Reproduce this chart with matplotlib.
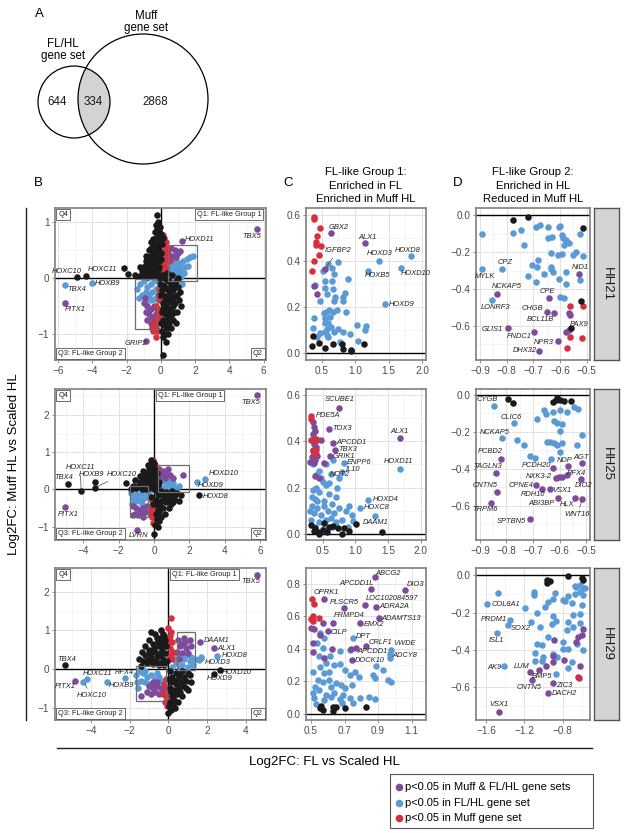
import matplotlib
matplotlib.use('Agg')
import matplotlib.pyplot as plt
from matplotlib.patches import Circle, Rectangle
from matplotlib.ticker import MultipleLocator

plt.rcParams['font.family'] = ['Liberation Sans', 'DejaVu Sans']

W, H = 625, 833
PURPLE = '#7E4A9B'
BLUE = '#5B9BD5'
RED = '#D62F3F'
BLACK = '#1A1A1A'

# ---------------- Venn (panel A) ----------------
venn_counts = ['644', '334', '2868']

# ---------------- Panel B, HH21 ----------------
b1_black = [(-0.25, 1.14), (-0.3, 0.95), (-0.15, 1.0), (-0.1, 0.85), (0.0, 0.8), (-0.2, 0.78), (-0.3, 0.72),
            (-0.05, 0.7), (-0.4, 0.62), (-0.15, 0.6), (0.05, 0.62), (-0.5, 0.5), (-0.3, 0.5), (-0.1, 0.48),
            (-0.6, 0.4), (-0.4, 0.38), (-0.2, 0.36), (0.0, 0.35), (-0.7, 0.28), (-0.5, 0.26), (-0.3, 0.22),
            (-0.1, 0.2), (-0.85, 0.15), (-0.6, 0.12), (-0.4, 0.1), (-0.2, 0.08), (-1.0, 0.05), (-0.75, 0.02),
            (-1.23, 0.03), (-1.52, 0.06), (-1.9, 0.07), (-2.16, 0.18), (-4.89, 0.02), (-4.39, 0.04),
            (0.1, 0.05), (0.3, -0.02), (0.5, -0.05), (0.8, -0.1), (1.0, -0.15), (0.2, -0.12), (0.45, -0.18),
            (0.7, -0.22), (0.95, -0.3), (1.1, -0.25), (0.15, -0.3), (0.4, -0.32), (0.6, -0.35), (0.25, -0.4),
            (0.65, -0.4), (0.85, -0.45), (0.1, -0.45), (0.3, -0.5), (0.55, -0.55), (0.75, -0.6), (0.05, -0.6),
            (0.25, -0.65), (0.45, -0.7), (0.88, -0.8), (0.1, -0.75), (0.2, -0.85), (0.35, -0.9), (0.05, -0.95),
            (0.15, -1.05), (0.1, -1.38), (0.5, -0.25), (-0.05, -0.1), (-0.1, 0.0), (-0.05, 0.92),
            (-0.25, 0.88), (-0.35, 0.82), (0.1, 0.72), (-0.45, 0.7), (-0.25, 0.62), (-0.6, 0.55), (-0.2, 0.52),
            (0.0, 0.45), (-0.35, 0.43), (-0.75, 0.38), (-0.5, 0.33), (-0.1, 0.3), (-0.9, 0.3), (-0.65, 0.2),
            (-0.45, 0.18), (-0.2, 0.15), (-1.1, 0.12), (-0.8, 0.07), (-0.55, 0.05), (-0.3, 0.03), (0.2, 0.0),
            (0.6, -0.12), (0.9, -0.05), (0.35, -0.2), (0.8, -0.32), (0.05, -0.22), (0.5, -0.42), (0.35, -0.6),
            (0.65, -0.65), (0.15, -0.55), (0.5, -0.8), (0.25, -1.0), (0.7, -0.75), (1.05, -0.4),
            (-0.6, 0.65), (-0.45, 0.55), (-0.7, 0.5), (-0.55, 0.42), (-0.85, 0.4), (-0.95, 0.22), (-1.2, 0.2),
            (-0.3, 0.3), (0.35, 0.1), (0.65, 0.05), (1.0, 0.0), (0.7, -0.5), (0.95, -0.6), (0.4, -1.0),
            (0.6, -0.9), (-0.05, -0.3), (0.0, -0.8), (0.3, -1.15), (1.2, -0.5), (0.85, -0.15), (0.55, -0.3),
            (0.3, -0.75)]
b1_red = [(0.1, 0.78), (0.2, 0.72), (0.3, 0.65), (0.15, 0.6), (0.4, 0.55), (0.25, 0.5), (0.1, 0.45), (0.35, 0.42),
          (0.2, 0.35), (0.45, 0.3), (0.1, 0.25), (0.3, 0.2), (0.15, 0.15), (-0.1, -0.2), (-0.2, -0.3), (-0.1, -0.4),
          (-0.3, -0.5), (-0.15, -0.55), (-0.25, -0.65), (-0.1, -0.7), (-0.35, -0.75), (-0.2, -0.8), (-0.3, -0.9),
          (-0.15, -0.95), (-0.45, -0.95), (-0.3, -1.05), (-0.5, -0.85)]
b1_blue = [(0.5, 0.4), (0.7, 0.35), (0.9, 0.3), (1.1, 0.28), (1.3, 0.3), (1.5, 0.35), (1.7, 0.38), (1.85, 0.4),
           (0.6, 0.2), (0.8, 0.15), (1.0, 0.1), (1.2, 0.12), (1.4, 0.2), (0.5, 0.05), (0.75, 0.03), (0.95, 0.22),
           (1.6, 0.22), (0.4, 0.25), (1.15, 0.02), (1.25, -0.1), (0.45, 0.12), (0.65, 0.28), (1.05, 0.2),
           (1.35, 0.1), (0.85, 0.05), (-1.4, -0.2), (-1.2, -0.1),
           (-1.0, -0.05), (-0.8, -0.15), (-0.6, -0.1), (-0.4, -0.05), (-1.1, -0.3), (-0.9, -0.25), (-0.7, -0.3),
           (-0.5, -0.25), (-0.3, -0.2), (-0.6, -0.4), (-0.4, -0.38), (-0.2, -0.35), (-1.3, -0.35), (-0.85, -0.42),
           (-5.58, -0.12), (-4.02, -0.09)]
b1_purple = [(0.6, 0.55), (0.8, 0.5), (1.0, 0.45), (1.1, 0.48), (0.7, 0.4), (0.9, 0.38), (0.55, 0.32), (0.4, 0.45),
             (-1.0, -0.45), (-0.8, -0.5), (-0.6, -0.55), (-0.4, -0.5), (-0.9, -0.6), (-0.7, -0.65), (-0.5, -0.7),
             (-0.3, -0.65), (-0.8, -0.75), (-0.6, -0.8), (-0.4, -0.85), (-0.25, -0.55), (-0.95, -0.35),
             (-0.5, -0.9), (-5.61, -0.45), (-0.9, -1.13), (1.21, 0.67), (5.6, 0.88)]
b1_genes = [('HOXC10', -4.89, 0.02), ('HOXC11', -4.39, 0.04), ('TBX4', -5.58, -0.12), ('HOXB9', -4.02, -0.09),
            ('PITX1', -5.61, -0.45), ('GRIP2', -0.9, -1.13), ('HOXD11', 1.21, 0.67), ('TBX5', 5.6, 0.88)]

# ---------------- Panel B, HH25 ----------------
b2_black = [(-4.88, 0.14), (-4.12, -0.04), (-3.33, 0.21), (-3.33, 0.05), (2.56, -0.15), (-1.58, 0.16), (0.0, -1.2),
            (-0.2, 0.8), (0.0, 0.7), (-0.3, 0.55), (-0.1, 0.5), (0.15, 0.45), (-0.5, 0.35), (-0.25, 0.3),
            (0.05, 0.3), (-0.8, 0.2), (-0.6, 0.15), (-0.35, 0.12), (-0.1, 0.1), (0.2, 0.12), (-1.2, 0.1),
            (-1.0, 0.05), (-0.7, 0.0), (-0.45, 0.02), (0.1, -0.02), (0.4, -0.05), (0.7, -0.08), (1.0, -0.05),
            (1.3, -0.1), (0.25, -0.15), (0.55, -0.18), (0.85, -0.2), (1.15, -0.25), (0.1, -0.28), (0.4, -0.3),
            (0.7, -0.35), (0.95, -0.4), (0.2, -0.45), (0.5, -0.5), (0.3, -0.6), (0.1, -0.65), (0.15, -0.8),
            (0.05, -0.95), (-0.15, -0.2), (-0.05, -0.4), (1.5, -0.15), (0.6, -0.1), (-0.15, 0.25), (-0.4, 0.45),
            (0.3, 0.2), (-0.9, 0.1), (0.8, -0.25), (0.35, -0.42), (-0.1, 0.65), (-0.2, 0.4), (-0.45, 0.22),
            (-0.3, 0.05), (0.0, 0.0), (0.2, -0.05), (0.15, -0.35), (0.45, -0.15), (1.2, -0.15), (0.6, -0.3),
            (0.25, -0.55), (-0.05, 0.15), (-1.3, 0.02), (0.9, -0.1), (-0.6, 0.5), (-0.35, 0.65), (-0.8, 0.35),
            (-1.05, 0.25), (1.1, -0.35), (0.85, -0.5), (0.6, -0.65), (0.4, -0.75), (0.2, -1.0), (-0.25, 0.6),
            (0.05, 0.55), (-0.7, 0.3), (1.4, -0.3), (0.3, -0.85)]
b2_red = [(-0.05, 0.8), (0.05, 0.65), (-0.1, 0.5), (0.1, 0.38), (0.0, 0.2), (-0.1, -0.3), (-0.05, -0.45),
          (-0.15, -0.55), (0.0, -0.65), (-0.1, -0.75), (-0.05, -0.9), (0.05, -0.55), (0.15, 0.55), (-0.2, -0.65)]
b2_blue = [(0.4, 0.25), (0.6, 0.2), (0.8, 0.15), (1.0, 0.1), (1.2, 0.05), (0.5, 0.05), (0.75, 0.0), (1.4, 0.08),
           (0.3, 0.1), (0.9, 0.25), (0.6, 0.32), (1.1, 0.18), (2.88, 0.28), (2.41, 0.21), (-1.3, -0.1),
           (-1.1, -0.05), (-0.9, -0.15), (-0.7, -0.1), (-0.5, -0.05), (-1.2, -0.25), (-1.0, -0.3), (-0.8, -0.28),
           (-0.6, -0.25), (-0.4, -0.2), (-0.3, -0.1), (-1.25, -0.4), (-0.7, -0.38), (-1.05, -0.18)]
b2_purple = [(0.3, 0.55), (0.5, 0.5), (0.7, 0.45), (0.9, 0.4), (0.4, 0.35), (0.6, 0.3), (0.2, 0.4), (1.1, 0.3),
             (0.8, 0.55), (1.66, 0.4), (-1.2, -0.45), (-1.0, -0.5), (-0.8, -0.55), (-0.6, -0.5), (-0.4, -0.45),
             (-1.1, -0.65), (-0.9, -0.7), (-0.7, -0.65), (-0.5, -0.6), (-1.2, -0.7), (-0.6, -0.75), (-0.3, -0.6),
             (-5.03, -0.47), (-0.94, -1.09), (5.8, 2.53)]
b2_genes = [('TBX4', -4.88, 0.14), ('HOXC11', -4.12, -0.04), ('HOXB9', -3.33, 0.21), ('HOXC10', -3.33, 0.05),
            ('PITX1', -5.03, -0.47), ('LVRN', -0.94, -1.09), ('HOXD10', 2.88, 0.28), ('HOXD9', 2.41, 0.21),
            ('HOXD8', 2.56, -0.15), ('TBX5', 5.8, 2.53)]

# ---------------- Panel B, HH29 ----------------
b3_black = [(-5.35, 0.10), (2.68, -0.03), (2.37, -0.13), (-0.9, 0.96), (-0.4, 1.0), (-0.2, 0.85), (-0.6, 0.8),
            (-0.3, 0.7), (-0.8, 0.65), (-0.5, 0.6), (-0.1, 0.6), (-1.0, 0.5), (-0.7, 0.45), (-0.4, 0.45),
            (-0.15, 0.4), (-1.2, 0.35), (-0.9, 0.3), (-0.6, 0.3), (-0.3, 0.25), (-1.1, 0.15), (-0.8, 0.12),
            (-0.5, 0.1), (-0.2, 0.1), (-1.4, 0.08), (-0.05, 0.2), (-0.65, 0.2), (-1.05, 0.22), (-0.35, 0.55),
            (-0.55, 0.7), (-0.25, 0.9), (-0.75, 0.55), (-0.45, 0.35), (-0.95, 0.4), (-1.3, 0.2), (0.1, -0.05),
            (0.4, -0.1), (0.7, -0.05), (1.0, -0.1), (0.2, -0.2), (0.5, -0.25), (0.8, -0.2), (1.1, -0.15),
            (0.15, -0.35), (0.4, -0.4), (0.65, -0.35), (0.9, -0.3), (0.1, -0.5), (0.3, -0.55), (0.55, -0.5),
            (0.2, -0.7), (0.45, -0.65), (0.1, -0.85), (0.3, -0.8), (0.0, -1.15), (0.05, -0.95), (0.75, -0.45),
            (0.25, -0.9), (0.3, -0.3), (0.55, -0.15), (0.05, -0.25), (0.35, -0.65), (0.6, -0.6), (0.15, -0.6),
            (-0.15, 0.75), (-0.4, 0.15), (-1.2, 0.6), (-0.7, 0.9), (-1.0, 0.75), (-0.45, 0.8), (-1.35, 0.45),
            (-0.85, 0.2), (-1.5, 0.25), (0.9, -0.5), (0.7, -0.7), (0.5, -0.85), (1.2, -0.35), (0.35, -1.0),
            (0.15, -1.05), (1.0, -0.55)]
b3_red = [(0.12, 1.31), (0.0, 1.05), (0.15, 0.95), (0.05, 0.8), (0.2, 0.7), (-0.05, 0.65), (0.1, 0.55),
          (0.25, 0.45), (0.05, 0.35), (0.2, 0.25), (0.1, 0.85), (-0.1, -0.25), (-0.2, -0.4), (-0.05, -0.5),
          (-0.15, -0.6), (-0.3, -0.65), (-0.05, -0.75), (-0.15, -0.85), (-0.05, -0.95), (-0.1, -0.7)]
b3_blue = [(0.3, 0.35), (0.5, 0.3), (0.8, 0.25), (1.1, 0.2), (1.4, 0.25), (1.6, 0.22), (0.4, 0.15), (0.7, 0.1),
           (1.0, 0.05), (1.3, 0.1), (0.2, 0.05), (0.6, 0.02), (1.7, 0.3), (0.9, 0.35), (1.2, 0.32), (2.54, 0.34),
           (1.69, 0.28), (-1.7, -0.15), (-1.5, -0.05), (-1.3, -0.1), (-1.1, -0.2), (-0.9, -0.15), (-0.7, -0.25),
           (-0.5, -0.2), (-1.6, -0.35), (-1.4, -0.3), (-1.2, -0.35), (-1.0, -0.4), (-0.8, -0.45), (-1.55, -0.5),
           (-0.6, -0.1), (-0.4, -0.3), (-1.2, -0.05), (-4.2, -0.27), (-4.4, -0.33), (-3.2, -0.35), (-2.25, -0.24)]
b3_purple = [(0.5, 0.75), (0.8, 0.8), (1.1, 0.75), (0.6, 0.6), (0.9, 0.55), (1.2, 0.6), (0.45, 0.45), (0.7, 0.4),
             (1.0, 0.4), (0.55, 0.25), (0.85, 0.7), (0.7, 0.65), (1.64, 0.69), (2.38, 0.53), (4.58, 2.43),
             (-1.4, -0.7), (-1.0, -0.45), (-0.8, -0.5), (-0.6, -0.45), (-0.4, -0.5), (-1.1, -0.6), (-0.9, -0.65),
             (-0.7, -0.6), (-0.5, -0.65), (-0.3, -0.55), (-0.6, -0.35), (-0.8, -0.35), (-4.84, -0.31)]
b3_genes = [('TBX4', -5.35, 0.10), ('PITX1', -4.84, -0.31), ('HOXC11', -4.2, -0.27), ('HOXC10', -4.4, -0.33),
            ('HOXB9', -3.2, -0.35), ('RFX4', -2.25, -0.24), ('DAAM1', 1.64, 0.69), ('ALX1', 2.38, 0.53),
            ('HOXD8', 2.54, 0.34), ('HOXD3', 1.69, 0.28), ('HOXD10', 2.68, -0.03), ('HOXD9', 2.37, -0.13),
            ('TBX5', 4.58, 2.43)]

# ---------------- Panel C, HH21 ----------------
c1_blue = [(0.6, 0.387), (0.65, 0.372), (0.74, 0.396), (0.515, 0.358), (0.685, 0.345), (0.9, 0.323), (0.55, 0.314),
           (0.65, 0.312), (0.4, 0.294), (0.55, 0.283), (0.665, 0.28), (0.575, 0.257), (0.85, 0.261), (0.7, 0.246),
           (0.825, 0.242), (0.475, 0.228), (0.685, 0.228), (0.815, 0.228), (0.61, 0.188), (0.56, 0.181),
           (0.535, 0.174), (0.385, 0.152), (0.675, 0.177), (0.865, 0.177), (0.725, 0.188), (0.55, 0.13),
           (0.6, 0.13), (0.635, 0.116), (0.575, 0.106), (0.75, 0.106), (0.825, 0.094), (1.025, 0.123),
           (1.165, 0.12), (1.155, 0.101), (0.685, 0.091), (0.425, 0.072), (0.475, 0.088), (0.575, 0.08),
           (0.6, 0.07), (0.925, 0.083), (0.775, 0.051), (1.05, 0.054), (0.365, 0.109), (0.55, 0.094),
           (0.55, 0.152), (0.625, 0.157), (1.36, 0.401), (1.195, 0.359), (1.83, 0.42), (1.69, 0.372),
           (1.44, 0.213)]
c1_purple = [(0.635, 0.52), (1.15, 0.477), (0.55, 0.367), (0.385, 0.29), (0.435, 0.257)]
c1_red = [(0.385, 0.59), (0.385, 0.583), (0.475, 0.543), (0.435, 0.51), (0.415, 0.481), (0.415, 0.471),
          (0.485, 0.464), (0.465, 0.425), (0.39, 0.401), (0.35, 0.358)]
c1_black = [(0.375, 0.074), (0.35, 0.032), (0.465, 0.046), (0.55, 0.022), (0.675, 0.039), (0.8, 0.039),
            (0.935, 0.013), (0.94, 0.01), (1.135, 0.039), (0.815, 0.019)]
c1_genes = [('GBX2', 0.635, 0.52), ('ALX1', 1.15, 0.477), ('IGFBP2', 0.55, 0.367), ('HOXD3', 1.36, 0.401),
            ('HOXB5', 1.195, 0.359), ('HOXD8', 1.83, 0.42), ('HOXD10', 1.69, 0.372), ('HOXD9', 1.44, 0.213)]

# ---------------- Panel C, HH25 ----------------
c2_blue = [(0.4, 0.253), (0.5, 0.225), (0.55, 0.21), (0.35, 0.19), (0.45, 0.18), (0.6, 0.17), (0.7, 0.16),
           (0.38, 0.15), (0.52, 0.14), (0.65, 0.13), (0.33, 0.12), (0.42, 0.11), (0.58, 0.1), (0.75, 0.11),
           (0.85, 0.1), (0.36, 0.09), (0.48, 0.08), (0.62, 0.07), (0.32, 0.06), (0.44, 0.05), (0.55, 0.06),
           (0.7, 0.05), (0.8, 0.06), (0.95, 0.08), (0.9, 0.12), (0.38, 0.03), (0.5, 0.02), (0.65, 0.03),
           (0.6, 0.22), (0.72, 0.2), (0.45, 0.27), (0.55, 0.3), (0.62, 0.26), (0.35, 0.3), (0.4, 0.2), (0.3, 0.1),
           (0.33, 0.16), (0.75, 0.24), (0.66, 0.32), (0.97, 0.055), (0.42, 0.14), (0.52, 0.12), (0.47, 0.24),
           (0.68, 0.09), (0.88, 0.03), (0.833, 0.307), (0.792, 0.268), (1.68, 0.282), (1.2, 0.148),
           (1.064, 0.112), (1.305, 0.076)]
c2_purple = [(0.756, 0.544), (0.603, 0.455), (0.664, 0.393), (0.685, 0.364), (0.613, 0.335), (1.68, 0.412),
             (0.449, 0.243), (0.346, 0.484), (0.36, 0.46), (0.387, 0.445), (0.35, 0.43), (0.346, 0.405),
             (0.47, 0.405), (0.4, 0.41), (0.372, 0.39), (0.397, 0.375), (0.35, 0.36), (0.4, 0.345), (0.33, 0.33),
             (0.387, 0.32), (0.42, 0.335), (0.31, 0.31), (0.37, 0.305), (0.52, 0.305), (0.38, 0.25)]
c2_red = [(0.32, 0.508), (0.32, 0.498), (0.32, 0.407), (0.371, 0.407), (0.407, 0.407), (0.346, 0.364),
          (0.397, 0.364), (0.371, 0.344)]
c2_black = [(0.32, 0.037), (0.387, 0.023), (0.423, 0.009), (0.526, 0.045), (0.603, 0.03), (0.664, 0.033),
            (0.731, 0.023), (0.833, 0.023), (1.013, 0.042), (1.41, 0.009), (0.803, 0.0), (0.566, 0.009),
            (0.45, 0.0), (0.5, 0.016), (0.9, 0.01), (0.36, 0.01)]
c2_genes = [('SCUBE1', 0.756, 0.544), ('PDE5A', 0.32, 0.508), ('TOX3', 0.603, 0.455), ('APCDD1', 0.664, 0.393),
            ('TBX3', 0.685, 0.364), ('GRIK1', 0.613, 0.335), ('ENPP6', 0.833, 0.307), ('IL10', 0.792, 0.268),
            ('NOT2', 0.449, 0.243), ('ALX1', 1.68, 0.412), ('HOXD11', 1.68, 0.282), ('HOXD4', 1.2, 0.148),
            ('HOXC8', 1.064, 0.112), ('DAAM1', 1.305, 0.076)]

# ---------------- Panel C, HH29 ----------------
c3_blue = [(0.556, 0.496), (0.58, 0.466), (0.536, 0.435), (0.57, 0.404), (0.55, 0.357), (0.614, 0.357),
           (0.59, 0.312), (0.64, 0.302), (0.67, 0.308), (0.7, 0.271), (0.73, 0.24), (0.76, 0.261), (0.554, 0.287),
           (0.51, 0.261), (0.58, 0.25), (0.61, 0.261), (0.54, 0.209), (0.57, 0.199), (0.526, 0.168), (0.62, 0.164),
           (0.65, 0.189), (0.68, 0.178), (0.7, 0.158), (0.746, 0.178), (0.786, 0.23), (0.87, 0.24), (0.88, 0.219),
           (0.93, 0.271), (0.96, 0.209), (0.98, 0.199), (0.51, 0.127), (0.55, 0.148), (0.59, 0.117), (0.64, 0.127),
           (0.69, 0.117), (0.73, 0.096), (0.52, 0.096), (0.53, 0.062), (0.58, 0.086), (0.62, 0.103), (0.67, 0.09),
           (0.686, 0.066), (0.75, 0.066), (0.79, 0.096), (0.846, 0.103), (0.884, 0.09), (0.97, 0.343),
           (0.67, 0.39), (0.73, 0.394), (0.606, 0.209), (0.89, 0.295), (0.75, 0.466), (0.98, 0.394),
           (0.97, 0.369)]
c3_purple = [(0.856, 0.767), (0.884, 0.84), (1.06, 0.763), (0.58, 0.708), (0.696, 0.65), (0.82, 0.671),
             (0.89, 0.661), (0.904, 0.589), (0.63, 0.562), (0.79, 0.562), (0.6, 0.511), (0.83, 0.418),
             (0.77, 0.404), (0.746, 0.332), (0.5, 0.527), (0.52, 0.52), (0.57, 0.558), (0.554, 0.486),
             (0.514, 0.435), (0.51, 0.384), (0.626, 0.398), (0.58, 0.343), (0.74, 0.398)]
c3_red = [(0.506, 0.706), (0.52, 0.675), (0.5, 0.583), (0.51, 0.575), (0.55, 0.589), (0.51, 0.6)]
c3_black = [(0.56, 0.049), (0.57, 0.025), (0.63, 0.045), (0.65, 0.045), (0.634, 0.02), (0.7, 0.035),
            (0.83, 0.045), (0.555, 0.035)]
c3_genes = [('APCDD1L', 0.856, 0.767), ('ABCG2', 0.884, 0.84), ('DIO3', 1.06, 0.763), ('OPRK1', 0.58, 0.708),
            ('PLSCR5', 0.696, 0.65), ('LOC102084597', 0.82, 0.671), ('ADRA2A', 0.89, 0.661),
            ('ADAMTS13', 0.904, 0.589), ('FRMPD4', 0.63, 0.562), ('EMX2', 0.79, 0.562), ('CILP', 0.6, 0.511),
            ('DPT', 0.75, 0.466), ('CRLF1', 0.83, 0.418), ('VWDE', 0.98, 0.394), ('APCDD1', 0.77, 0.404),
            ('ADCY8', 0.97, 0.369), ('DOCK10', 0.746, 0.332)]

# ---------------- Panel D, HH21 ----------------
d1_black = [(-0.7775, -0.027), (-0.721, -0.009), (-0.5125, -0.068), (-0.521, -0.463), (-0.56, -0.613)]
d1_blue = [(-0.894, -0.105), (-0.778, -0.099), (-0.748, -0.081), (-0.734, -0.162), (-0.69, -0.063),
           (-0.675, -0.054), (-0.644, -0.063), (-0.646, -0.123), (-0.63, -0.117), (-0.604, -0.063),
           (-0.6, -0.06), (-0.594, -0.108), (-0.5875, -0.126), (-0.585, -0.162), (-0.579, -0.135),
           (-0.565, -0.153), (-0.525, -0.105), (-0.634, -0.207), (-0.606, -0.216), (-0.594, -0.213),
           (-0.5525, -0.216), (-0.54, -0.2), (-0.5125, -0.222), (-0.681, -0.243), (-0.704, -0.27),
           (-0.6875, -0.279), (-0.719, -0.328), (-0.691, -0.36), (-0.659, -0.321), (-0.634, -0.279),
           (-0.634, -0.29), (-0.6275, -0.31), (-0.6025, -0.346), (-0.579, -0.306), (-0.5775, -0.375),
           (-0.525, -0.351), (-0.6, -0.441), (-0.584, -0.447), (-0.894, -0.294), (-0.816, -0.292),
           (-0.856, -0.459)]
d1_purple = [(-0.8375, -0.427), (-0.641, -0.447), (-0.65, -0.523), (-0.621, -0.532), (-0.5275, -0.319),
             (-0.565, -0.528), (-0.562, -0.54), (-0.794, -0.613), (-0.696, -0.631), (-0.609, -0.679),
             (-0.6775, -0.733), (-0.565, -0.622), (-0.579, -0.631)]
d1_red = [(-0.5625, -0.492), (-0.516, -0.492), (-0.5625, -0.658), (-0.519, -0.667), (-0.575, -0.717)]
d1_genes = [('CPZ', -0.816, -0.292), ('MYLK', -0.894, -0.294), ('NCKAP5', -0.8375, -0.427),
            ('LONRF3', -0.856, -0.459), ('CPE', -0.641, -0.447), ('CHGB', -0.65, -0.523),
            ('BCL11B', -0.621, -0.532), ('NID1', -0.5275, -0.319), ('PAX9', -0.565, -0.622),
            ('GLIS1', -0.794, -0.613), ('FNDC1', -0.696, -0.631), ('NPR3', -0.609, -0.679),
            ('DHX32', -0.6775, -0.733)]

# ---------------- Panel D, HH25 ----------------
d2_black = [(-0.795, -0.023), (-0.776, -0.045), (-0.625, -0.036), (-0.609, -0.018), (-0.599, -0.027),
            (-0.584, -0.031), (-0.558, -0.031), (-0.615, -0.03)]
d2_blue = [(-0.847, -0.059), (-0.77, -0.153), (-0.818, -0.234), (-0.685, -0.13), (-0.659, -0.081),
           (-0.651, -0.105), (-0.625, -0.094), (-0.599, -0.081), (-0.573, -0.09), (-0.546, -0.067),
           (-0.53, -0.077), (-0.622, -0.139), (-0.609, -0.153), (-0.59, -0.157), (-0.599, -0.195),
           (-0.514, -0.216), (-0.761, -0.243), (-0.735, -0.27), (-0.649, -0.252), (-0.634, -0.256),
           (-0.622, -0.258), (-0.609, -0.27), (-0.59, -0.261), (-0.533, -0.27), (-0.599, -0.306),
           (-0.71, -0.33), (-0.691, -0.339), (-0.632, -0.348)]
d2_purple = [(-0.822, -0.346), (-0.84, -0.423), (-0.837, -0.526), (-0.859, -0.582), (-0.624, -0.396),
             (-0.567, -0.384), (-0.514, -0.369), (-0.615, -0.45), (-0.603, -0.445), (-0.59, -0.441),
             (-0.573, -0.435), (-0.518, -0.454), (-0.687, -0.486), (-0.666, -0.508), (-0.634, -0.51),
             (-0.606, -0.559), (-0.542, -0.559), (-0.514, -0.562), (-0.713, -0.672)]
d2_genes = [('CYGB', -0.847, -0.059), ('CLIC6', -0.77, -0.153), ('NCKAP5', -0.818, -0.234),
            ('PCBD2', -0.822, -0.346), ('TAGLN3', -0.84, -0.423), ('CNTN5', -0.837, -0.526),
            ('TRPM6', -0.859, -0.582), ('PCDH20', -0.624, -0.396), ('NDP', -0.567, -0.384), ('AGT', -0.514, -0.369),
            ('NXK3-2', -0.615, -0.45), ('RFX4', -0.573, -0.435), ('DIO2', -0.518, -0.454),
            ('CPNE4', -0.687, -0.486), ('RDH10', -0.666, -0.508), ('VSX1', -0.634, -0.51),
            ('ABI3BP', -0.606, -0.559), ('HLX', -0.542, -0.559), ('WNT16', -0.514, -0.562),
            ('SPTBN5', -0.713, -0.672)]

# ---------------- Panel D, HH29 ----------------
d3_black = [(-0.966, -0.022), (-0.966, -0.04), (-0.93, -0.03), (-0.741, -0.004), (-0.601, -0.016),
            (-0.584, -0.025)]
d3_blue = [(-1.478, -0.097), (-1.586, -0.155), (-1.35, -0.238), (-1.367, -0.268), (-1.482, -0.31),
           (-1.409, -0.49), (-1.193, -0.175), (-1.096, -0.088), (-1.096, -0.106), (-1.13, -0.25), (-1.071, -0.2),
           (-0.984, -0.169), (-0.95, -0.142), (-0.897, -0.128), (-0.88, -0.097), (-0.793, -0.133),
           (-0.77, -0.14), (-0.741, -0.112), (-0.706, -0.151), (-0.671, -0.101), (-0.661, -0.061),
           (-0.62, -0.088), (-0.584, -0.106), (-0.567, -0.07), (-0.602, -0.16), (-0.619, -0.205),
           (-0.696, -0.214), (-0.741, -0.25), (-0.897, -0.22), (-0.915, -0.259), (-0.87, -0.247),
           (-1.037, -0.277), (-0.758, -0.295), (-0.689, -0.277), (-0.619, -0.256), (-1.064, -0.368),
           (-1.019, -0.377), (-0.95, -0.331), (-0.793, -0.358), (-0.741, -0.395), (-0.8, -0.395),
           (-0.654, -0.368), (-0.584, -0.403), (-1.089, -0.418), (-0.897, -0.421), (-0.863, -0.44),
           (-1.089, -0.461), (-1.019, -0.463), (-1.0, -0.44), (-0.87, -0.533), (-0.741, -0.497),
           (-0.706, -0.467), (-0.671, -0.058), (-0.619, -0.052), (-0.584, -0.07)]
d3_purple = [(-0.591, -0.286), (-0.602, -0.319), (-0.637, -0.331), (-0.661, -0.358), (-0.886, -0.349),
             (-0.904, -0.436), (-0.904, -0.467), (-0.786, -0.454), (-1.141, -0.52), (-1.043, -0.508),
             (-0.977, -0.485), (-1.123, -0.562), (-0.897, -0.58), (-0.95, -0.632), (-1.461, -0.733),
             (-0.619, -0.49), (-0.63, -0.551)]
d3_red = [(-0.635, -0.548)]
d3_genes = [('COL8A1', -1.586, -0.155), ('PRDM1', -1.35, -0.238), ('SOX2', -1.367, -0.268), ('ISL1', -1.482, -0.31),
            ('AK9', -1.409, -0.49), ('LUM', -1.141, -0.52), ('BMP5', -1.043, -0.508), ('CNTN5', -1.123, -0.562),
            ('ZIC3', -0.897, -0.58), ('DACH2', -0.95, -0.632), ('VSX1', -1.461, -0.733)]

legend_labels = ['p<0.05 in Muff & FL/HL gene sets', 'p<0.05 in FL/HL gene set', 'p<0.05 in Muff gene set']
stage_names = ['HH21', 'HH25', 'HH29']

# label placement: name -> (dx px, dy px, ha, draw segment)
b1_pos = {'HOXC10': (-11, 6, 'center', 0), 'HOXC11': (17, 6, 'center', 0), 'TBX4': (11, -5, 'center', 0),
          'HOXB9': (3, 0, 'left', 0), 'PITX1': (10, -6, 'center', 0), 'GRIP2': (-10, -2, 'center', 0),
          'HOXD11': (3, 1, 'left', 0), 'TBX5': (-5, -7, 'center', 0)}
b2_pos = {'TBX4': (-4, 7, 'center', 0), 'HOXC11': (-1, 23, 'center', 1), 'HOXB9': (-4, 7, 'center', 0),
          'HOXC10': (27, 13, 'center', 1), 'PITX1': (3, -8, 'center', 0), 'LVRN': (1, -6, 'center', 0),
          'HOXD10': (19, 6, 'center', 0), 'HOXD9': (14, -4, 'center', 0), 'HOXD8': (16, -2, 'center', 0),
          'TBX5': (-6, -7, 'center', 0)}
b3_pos = {'TBX4': (2, 6, 'center', 0), 'PITX1': (-10, -6, 'center', 0), 'HOXC11': (10, 6, 'center', 0),
          'HOXC10': (8, -14, 'center', 1), 'HOXB9': (15, -3, 'center', 0), 'RFX4': (-1, 6, 'center', 0),
          'DAAM1': (4, 2, 'left', 0), 'ALX1': (3, 0, 'left', 0), 'HOXD8': (4, 0, 'left', 0),
          'HOXD3': (4, -4, 'left', 0), 'HOXD10': (2, -2, 'left', 0), 'HOXD9': (6, -5, 'center', 0),
          'TBX5': (-6, -7, 'center', 0)}
c1_pos = {'GBX2': (8, 6, 'center', 0), 'ALX1': (2, 6, 'center', 0), 'IGFBP2': (13, 18, 'center', 1),
          'HOXD3': (0, 7, 'center', 0), 'HOXB5': (9, -5, 'center', 0), 'HOXD8': (-3, 6, 'center', 0),
          'HOXD10': (14, -6, 'center', 0), 'HOXD9': (4, 0, 'left', 0)}
c2_pos = {'SCUBE1': (0, 8, 'center', 0), 'PDE5A': (5, 1, 'left', 0), 'TOX3': (3, 0, 'left', 0),
          'APCDD1': (3, 0, 'left', 0), 'TBX3': (4, 0, 'left', 0), 'GRIK1': (3, 0, 'left', 0),
          'ENPP6': (2, 0, 'left', 0), 'IL10': (4, 2, 'left', 0), 'NOT2': (10, 3, 'left', 0),
          'ALX1': (0, 7, 'center', 0), 'HOXD11': (-1, 7, 'center', 0), 'HOXD4': (4, 0, 'left', 0),
          'HOXC8': (4, 0, 'left', 0), 'DAAM1': (0, -6, 'center', 0)}
c3_pos = {'APCDD1L': (-14, 6, 'center', 0), 'ABCG2': (13, 4, 'center', 0), 'DIO3': (11, 5, 'center', 0),
          'OPRK1': (2, 6, 'center', 0), 'PLSCR5': (0, 6, 'center', 0), 'LOC102084597': (1, 6, 'left', 0),
          'ADRA2A': (3, 0, 'left', 0), 'ADAMTS13': (3, 0, 'left', 0), 'FRMPD4': (16, 7, 'center', 0),
          'EMX2': (4, -2, 'left', 0), 'CILP': (3, -2, 'left', 0), 'DPT': (3, 2, 'left', 0),
          'CRLF1': (2, 4, 'left', 0), 'VWDE': (2, 6, 'left', 0), 'APCDD1': (1, -3, 'left', 0),
          'ADCY8': (3, -2, 'left', 0), 'DOCK10': (3, 0, 'left', 0)}
d1_pos = {'CPZ': (3, 7, 'center', 0), 'MYLK': (3, -7, 'center', 0), 'NCKAP5': (10, 7, 'center', 0),
          'LONRF3': (4, -8, 'center', 0), 'CPE': (-2, 6, 'center', 0), 'CHGB': (-14, 3, 'center', 0),
          'BCL11B': (-14, -6, 'center', 0), 'NID1': (1, 7, 'center', 0), 'PAX9': (10, 6, 'center', 0),
          'GLIS1': (-16, -1, 'center', 0), 'FNDC1': (-15, -5, 'center', 0), 'NPR3': (-14, -2, 'center', 0),
          'DHX32': (-15, 0, 'center', 0)}
d2_pos = {'CYGB': (-7, 6, 'center', 0), 'CLIC6': (-3, 6, 'center', 0), 'NCKAP5': (-7, 6, 'center', 0),
          'PCBD2': (-10, 7, 'center', 0), 'TAGLN3': (-8, 7, 'center', 0), 'CNTN5': (-12, 7, 'center', 0),
          'TRPM6': (-6, -7, 'center', 0), 'PCDH20': (-17, 3, 'center', 0), 'NDP': (-4, 5, 'center', 0),
          'AGT': (-1, 6, 'center', 0), 'NXK3-2': (-17, 2, 'center', 0), 'RFX4': (10, 2, 'center', 0),
          'DIO2': (2, -7, 'center', 0), 'CPNE4': (-15, -1, 'center', 0), 'RDH10': (-9, -6, 'center', 0),
          'VSX1': (11, -1, 'center', 0), 'ABI3BP': (-16, -5, 'center', 0), 'HLX': (-8, -6, 'center', 0),
          'WNT16': (-5, -16, 'center', 1), 'SPTBN5': (-18, -2, 'center', 0)}
d3_pos = {'COL8A1': (4, 0, 'left', 0), 'PRDM1': (-16, 0, 'center', 0), 'SOX2': (12, -3, 'center', 0),
          'ISL1': (-1, -7, 'center', 0), 'AK9': (-10, -1, 'center', 0), 'LUM': (-8, 6, 'center', 0),
          'BMP5': (3, -7, 'center', 0), 'CNTN5': (-3, -8, 'center', 0), 'ZIC3': (11, -2, 'center', 0),
          'DACH2': (16, -1, 'center', 0), 'VSX1': (0, 7, 'center', 0)}

fig = plt.figure(figsize=(W / 100, H / 100), dpi=100)
fig.patch.set_facecolor('white')

# background axes in pixel coordinates for venn, letters, long axis titles and legend
ax0 = fig.add_axes([0, 0, 1, 1])
ax0.set_xlim(0, W)
ax0.set_ylim(H, 0)
ax0.axis('off')


def px_axes(l, t, r, b):
    return fig.add_axes([l / W, 1 - b / H, (r - l) / W, (b - t) / H])


def style(ax, xlim, ylim, xticks, yticks, xminor, yminor):
    ax.set_xlim(xlim)
    ax.set_ylim(ylim)
    ax.set_xticks(xticks)
    ax.set_yticks(yticks)
    ax.xaxis.set_minor_locator(MultipleLocator(xminor))
    ax.yaxis.set_minor_locator(MultipleLocator(yminor))
    ax.grid(which='major', color='#E2E2E2', lw=0.7)
    ax.grid(which='minor', color='#F0F0F0', lw=0.5)
    ax.set_axisbelow(True)
    for s in ax.spines.values():
        s.set_color('#7F7F7F')
        s.set_linewidth(1.2)
    ax.tick_params(which='major', length=2.5, width=0.6, color='#7F7F7F', labelsize=7.2,
                   labelcolor='#4D4D4D', pad=1.5)
    ax.tick_params(which='minor', length=0)


def draw_points(ax, blue, purple, red, black, size=22):
    for pts, col in ((blue, BLUE), (purple, PURPLE), (red, RED), (black, BLACK)):
        xs = [p[0] for p in pts]
        ys = [p[1] for p in pts]
        ax.scatter(xs, ys, s=size, c=col, lw=0, zorder=3, clip_on=False)


def draw_genes(ax, genes, pos):
    for name, x, y in genes:
        dx, dy, ha, seg = pos[name]
        arrow = dict(arrowstyle='-', color='#444444', lw=0.5, shrinkA=1, shrinkB=2) if seg else None
        ax.annotate(name, (x, y), xytext=(dx, dy), textcoords='offset pixels', ha=ha, va='center',
                    fontsize=5.4, style='italic', color='#222222', arrowprops=arrow, zorder=5)


def quad_labels(ax, q1_x):
    kw = dict(fontsize=5.3, color='#222222', zorder=6,
              bbox=dict(boxstyle='square,pad=0.25', fc='white', ec='#555555', lw=0.6))
    ax.text(0.015, 0.982, 'Q4', ha='left', va='top', transform=ax.transAxes, **kw)
    # Q1 label starts at a data x position, top of panel
    ax.text(q1_x, 0.982, 'Q1: FL-like Group 1', ha='left', va='top',
            transform=ax.get_xaxis_transform(), **kw)
    ax.text(0.015, 0.018, 'Q3: FL-like Group 2', ha='left', va='bottom', transform=ax.transAxes, **kw)
    ax.text(0.985, 0.018, 'Q2', ha='right', va='bottom', transform=ax.transAxes, **kw)


def group_box(ax, x0, y0, x1, y1):
    ax.add_patch(Rectangle((x0, y0), x1 - x0, y1 - y0, fc='none', ec='#6E6E6E', lw=0.9, zorder=4))


rows = [(208, 360), (389, 540), (568, 720)]

# ---- panel B ----
b_data = [(b1_blue, b1_purple, b1_red, b1_black, b1_genes, b1_pos),
          (b2_blue, b2_purple, b2_red, b2_black, b2_genes, b2_pos),
          (b3_blue, b3_purple, b3_red, b3_black, b3_genes, b3_pos)]
b_lims = [((-6.19, 6.14), (-1.47, 1.26), [-6, -4, -2, 0, 2, 4, 6], [-1, 0, 1]),
          ((-5.6, 6.33), (-1.36, 2.70), [-4, -2, 0, 2, 4, 6], [-1, 0, 1, 2]),
          ((-5.87, 5.06), (-1.32, 2.61), [-4, -2, 0, 2, 4], [-1, 0, 1, 2])]
b_boxes = [((0.39, -0.05, 2.1, 0.6), (-1.52, -0.91, -0.25, -0.02)),
           ((0.25, -0.06, 1.98, 0.65), (-1.36, -0.75, -0.36, 0.09)),
           ((0.43, -0.04, 1.38, 0.96), (-1.69, -0.83, -0.13, 0.08))]
q1_label_x = [2.1, 0.2, 0.2]
for (t, b), (bl, pu, re, bk, genes, pos), (xl, yl, xt, yt), (q1, q3), qx in zip(rows, b_data, b_lims,
                                                                               b_boxes, q1_label_x):
    ax = px_axes(55, t, 266, b)
    style(ax, xl, yl, xt, yt, 1, 0.5)
    ax.axhline(0, color='black', lw=1.0, zorder=2)
    ax.axvline(0, color='black', lw=1.0, zorder=2)
    draw_points(ax, bl, pu, re, bk)
    group_box(ax, *q1)
    group_box(ax, *q3)
    draw_genes(ax, genes, pos)
    quad_labels(ax, qx)

# ---- panel C ----
c_data = [(c1_blue, c1_purple, c1_red, c1_black, c1_genes, c1_pos),
          (c2_blue, c2_purple, c2_red, c2_black, c2_genes, c2_pos),
          (c3_blue, c3_purple, c3_red, c3_black, c3_genes, c3_pos)]
c_lims = [((0.265, 2.06), (-0.029, 0.63), [0.5, 1.0, 1.5, 2.0], [0.0, 0.2, 0.4, 0.6], 0.25),
          ((0.245, 2.08), (-0.027, 0.626), [0.5, 1.0, 1.5, 2.0], [0.0, 0.2, 0.4, 0.6], 0.25),
          ((0.47, 1.186), (-0.037, 0.898), [0.5, 0.7, 0.9, 1.1], [0.0, 0.2, 0.4, 0.6, 0.8], 0.1)]
for (t, b), (bl, pu, re, bk, genes, pos), (xl, yl, xt, yt, xm) in zip(rows, c_data, c_lims):
    ax = px_axes(306, t, 426, b)
    style(ax, xl, yl, xt, yt, xm, 0.1)
    ax.xaxis.set_major_formatter(plt.FuncFormatter(lambda v, _: f'{v:.1f}'))
    ax.yaxis.set_major_formatter(plt.FuncFormatter(lambda v, _: f'{v:.1f}'))
    ax.axhline(0, color='black', lw=1.0, zorder=2)
    draw_points(ax, bl, pu, re, bk)
    draw_genes(ax, genes, pos)

# ---- panel D ----
d_data = [(d1_blue, d1_purple, d1_red, d1_black, d1_genes, d1_pos),
          (d2_blue, d2_purple, [], d2_black, d2_genes, d2_pos),
          (d3_blue, d3_purple, d3_red, d3_black, d3_genes, d3_pos)]
d_lims = [((-0.915, -0.488), (-0.784, 0.038), [-0.9, -0.8, -0.7, -0.6, -0.5], 0.05),
          ((-0.915, -0.485), (-0.784, 0.032), [-0.9, -0.8, -0.7, -0.6, -0.5], 0.05),
          ((-1.704, -0.514), (-0.778, 0.04), [-1.6, -1.2, -0.8], 0.2)]
for (t, b), (bl, pu, re, bk, genes, pos), (xl, yl, xt, xm), stage in zip(rows, d_data, d_lims, stage_names):
    ax = px_axes(476, t, 590, b)
    style(ax, xl, yl, xt, [0.0, -0.2, -0.4, -0.6], xm, 0.1)
    ax.xaxis.set_major_formatter(plt.FuncFormatter(lambda v, _: f'{v:.1f}'.replace('-', '\u2212')))
    ax.yaxis.set_major_formatter(plt.FuncFormatter(lambda v, _: f'{v:.1f}'.replace('-', '\u2212')
                                                   if abs(v) > 1e-9 else '0.0'))
    ax.axhline(0, color='black', lw=1.0, zorder=2)
    draw_points(ax, bl, pu, re, bk)
    draw_genes(ax, genes, pos)
    # facet strip
    sax = px_axes(594, t, 619, b)
    sax.set_facecolor('#D4D4D4')
    sax.set_xticks([])
    sax.set_yticks([])
    for s in sax.spines.values():
        s.set_color('#555555')
        s.set_linewidth(1.0)
    sax.text(0.5, 0.5, stage, rotation=270, ha='center', va='center', fontsize=9.5,
             color='#1A1A1A', transform=sax.transAxes)

# ---- Venn ----
big = Circle((143, 99), 65, fc='none', ec='black', lw=0.9, zorder=3)
ax0.add_patch(big)
lens = Circle((74, 102), 36, fc='#D3D3D3', ec='none', zorder=1)
ax0.add_patch(lens)
lens.set_clip_path(big)
ax0.add_patch(Circle((74, 102), 36, fc='none', ec='black', lw=0.9, zorder=3))
for txt, x in zip(venn_counts, [57, 93, 155]):
    ax0.text(x, 102, txt, ha='center', va='center', fontsize=8.3, color='#1A1A1A', zorder=4)
ax0.text(146, 22, 'Muff\ngene set', ha='center', va='center', fontsize=8.3, linespacing=1.1)
ax0.text(63, 50, 'FL/HL\ngene set', ha='center', va='center', fontsize=8.3, linespacing=1.1)

# ---- letters and titles ----
for letter, x, y in [('A', 39, 14), ('B', 38, 183), ('C', 288, 183), ('D', 458, 183)]:
    ax0.text(x, y, letter, ha='center', va='center', fontsize=9.5)
for line, y in zip(['FL-like Group 1:', 'Enriched in FL', 'Enriched in Muff HL'], [172, 186, 199]):
    ax0.text(366, y, line, ha='center', va='center', fontsize=8.2)
for line, y in zip(['FL-like Group 2:', 'Enriched in HL', 'Reduced in Muff HL'], [172, 186, 199]):
    ax0.text(533, y, line, ha='center', va='center', fontsize=8.2)

# shared axis titles with rule lines
ax0.plot([26, 26], [208, 720], color='#222222', lw=1.0)
ax0.plot([57, 592], [748, 748], color='#222222', lw=1.0)
ax0.text(14, 464, 'Log2FC: Muff HL vs Scaled HL', rotation=90, ha='center', va='center', fontsize=9.5)
ax0.text(324, 762, 'Log2FC: FL vs Scaled HL', ha='center', va='center', fontsize=9.5)

# ---- legend ----
ax0.add_patch(Rectangle((390, 774), 203, 54, fc='white', ec='#555555', lw=0.8))
for lab, col, y in zip(legend_labels, [PURPLE, BLUE, RED], [787, 803, 818]):
    ax0.scatter([399], [y], s=30, c=col, lw=0)
    ax0.text(405, y, lab, ha='left', va='center', fontsize=8)

fig.savefig('out.png', dpi=100, facecolor='white')
